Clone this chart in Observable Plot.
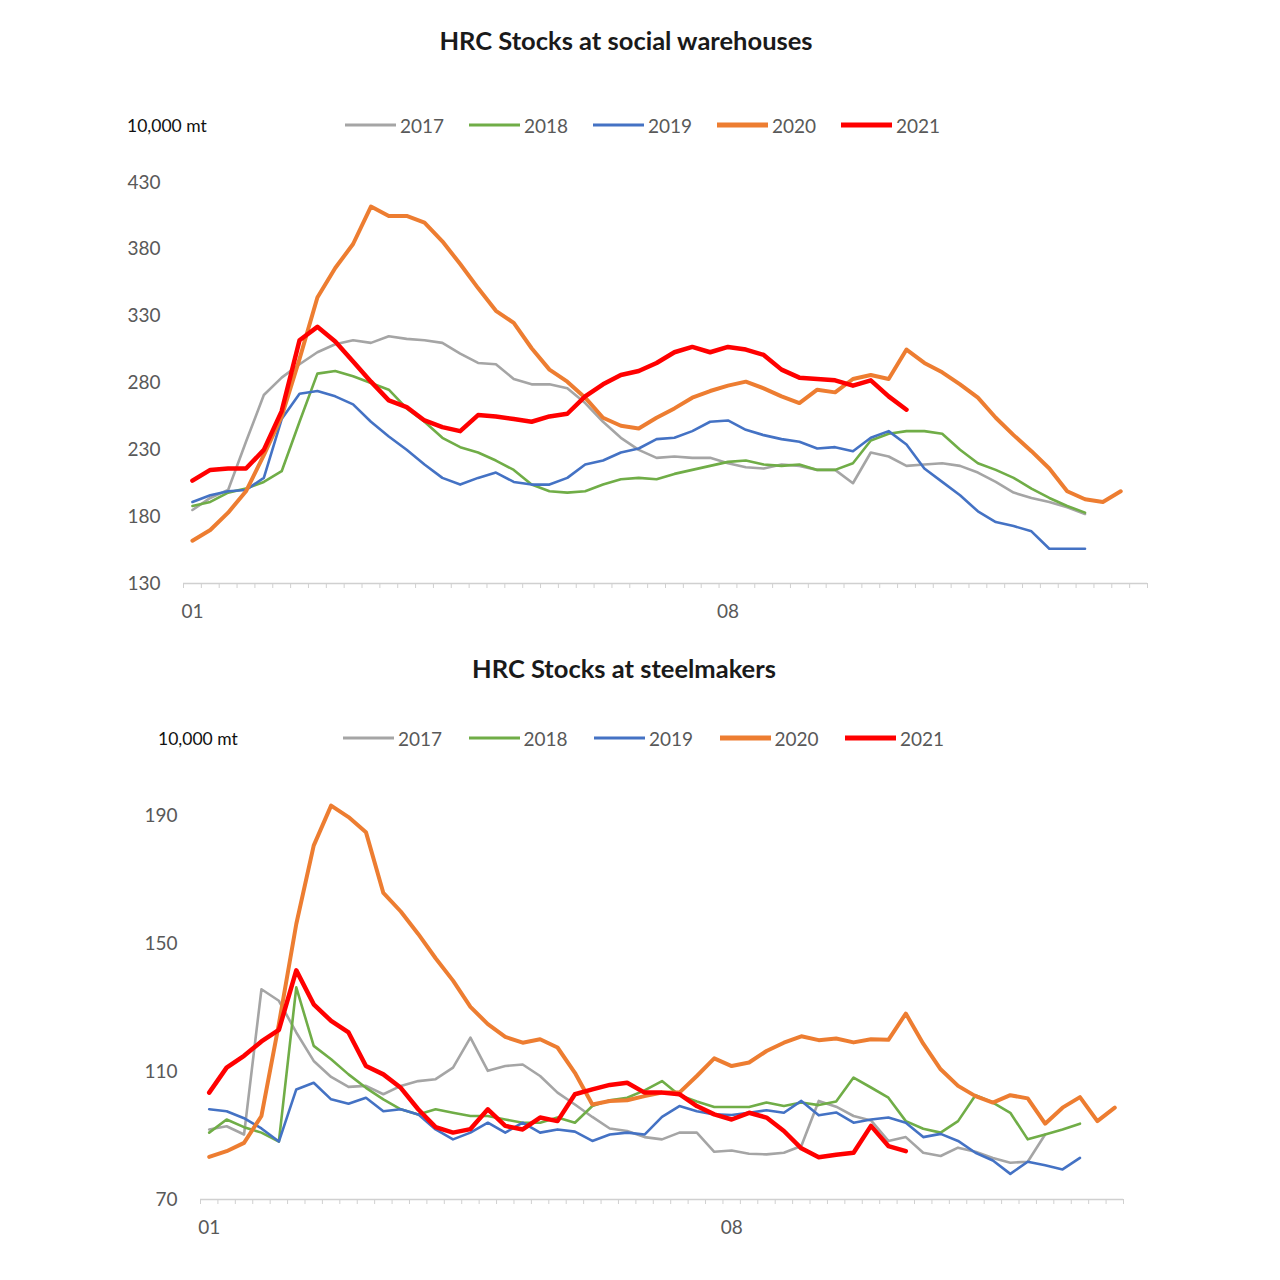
<!DOCTYPE html>
<html>
<head>
<meta charset="utf-8">
<script src="https://cdn.jsdelivr.net/npm/d3@7"></script>
<script src="https://cdn.jsdelivr.net/npm/@observablehq/plot@0.6"></script>
<style>
  body { margin: 0; background: #fff; font-family: Lato, "Open Sans", sans-serif; }
  #page { position: relative; width: 1280px; height: 1280px; overflow: hidden; background: #fff; }
  .abs { position: absolute; }
  .title { font-weight: bold; font-size: 25.5px; color: #1a1a1a; transform: translate(-50%, -50%); white-space: nowrap; }
  .unit { font-size: 17.5px; color: #111; transform: translateY(-50%); white-space: nowrap; }
  .legend { display: flex; align-items: center; transform: translateY(-50%); }
  .item { display: flex; align-items: center; }
  .swatch { width: 51px; margin-right: 4px; }
  .ltext { font-size: 19px; color: #595959; }
  .chart { position: absolute; left: 0; }
</style>
</head>
<body>
<div id="page"></div>
<script>
// ---------- data ----------
const years = ["2017", "2018", "2019", "2020", "2021"];
const xLabels = ["01", "08"];
const xLabelWeek = [0, 30];

// HRC stocks at social warehouses (10,000 mt), weekly
const warehouse2017 = [185,194,200,236,271,284,294,303,309,312,310,315,313,312,310,302,295,294,283,279,279,276,265,251,239,230,224,225,224,224,220,217,216,219,218,215,215,205,228,225,218,219,220,218,213,206,198,194,191,187,182];
const warehouse2018 = [188,191,198,201,206,214,251,287,289,285,280,275,261,251,239,232,228,222,215,204,199,198,199,204,208,209,208,212,215,218,221,222,219,218,219,215,215,220,237,242,244,244,242,230,220,215,209,201,194,188,183];
const warehouse2019 = [191,196,199,200,209,253,272,274,270,264,251,240,230,219,209,204,209,213,206,204,204,209,219,222,228,231,238,239,244,251,252,245,241,238,236,231,232,229,239,244,234,216,206,196,184,176,173,169,156,156,156];
const warehouse2020 = [162,170,183,199,226,255,298,344,366,384,412,405,405,400,386,369,351,334,325,306,290,281,269,254,248,246,254,261,269,274,278,281,276,270,265,275,273,283,286,283,305,295,288,279,269,254,241,229,216,199,193,191,199];
const warehouse2021 = [207,215,216,216,230,259,312,322,311,296,281,267,262,252,247,244,256,255,253,251,255,257,270,279,286,289,295,303,307,303,307,305,301,290,284,283,282,278,282,270,260];
const warehouseYTicks = [130, 180, 230, 280, 330, 380, 430];

// HRC stocks at steelmakers (10,000 mt), weekly
const mill2017 = [91.9,92.9,90.3,135.7,132.1,122.2,113.3,108.3,105.2,105.5,102.9,105.5,107,107.6,111.2,120.6,110.2,111.7,112.2,108.6,103.4,99.7,95.8,92.2,91.4,89.5,88.8,90.9,90.9,84.9,85.3,84.3,84.1,84.6,86.7,100.8,99,96.1,94.7,88.3,89.5,84.6,83.6,86.2,84.9,83,81.5,81.8,90.3];
const mill2018 = [90.9,95,92.6,90.9,88.1,136.3,118,113.8,109.1,104.9,101.3,98.2,96.6,98.2,97.1,96.1,96.1,95,94,94,95.6,94,99.2,101,101.8,104.1,107,102.6,100.6,98.9,98.9,98.9,100.3,99.2,100.3,99.5,100.6,108.1,105,101.8,94.5,92.1,90.9,94.5,102.6,100.3,97.1,88.8,90.3,91.9,93.7];
const mill2019 = [98.2,97.6,95.4,92.2,88.1,104.4,106.5,101.3,99.9,101.8,97.6,98.2,96.6,91.9,88.8,90.9,94,90.9,94,90.9,91.9,91.2,88.3,90.3,90.9,90.3,95.8,99.2,97.6,96.6,96.4,97.1,97.9,97.1,100.8,96.3,97.2,94,95,95.6,94,89.5,90.5,88.3,84.6,82.2,78,81.8,80.7,79.4,83];
const mill2020 = [83.3,85.1,87.7,96.1,124.8,156.1,180.6,193.1,189.5,184.8,165.8,160,153,145.4,138.4,130.2,124.8,120.8,119,120.1,117.5,109.6,99.7,100.8,101,102.3,103.4,103.4,108.6,114.1,111.7,112.8,116.4,119,121,119.8,120.3,119.1,120.1,119.9,128.1,118.7,110.7,105.5,102.3,100.3,102.6,101.6,93.7,98.7,102,94.5,98.7];
const mill2021 = [103.4,111.2,114.9,119.4,123,141.6,131,125.8,122.2,111.7,109.1,104.9,98.2,92.6,90.9,92,98.2,93,91.9,95.6,94.5,102.9,104.4,105.8,106.5,103.4,103.4,102.9,99.2,96.6,95,97.1,95.6,91.4,86,83.2,84,84.6,93,86.7,85.1];
const millYTicks = [70, 110, 150, 190];

// ---------- styles ----------
const lineColor = { "2017": "#A5A5A5", "2018": "#70AD47", "2019": "#4472C4", "2020": "#ED7D31", "2021": "#FF0000" };
const lineWidth = { "2017": 2.6, "2018": 2.6, "2019": 2.6, "2020": 4, "2021": 4.5 };
const swatchWidth = { "2017": 2.6, "2018": 2.6, "2019": 2.6, "2020": 4.5, "2021": 5.5 };

const page = document.getElementById("page");

function addDiv(cls, text, left, top) {
  const d = document.createElement("div");
  d.className = "abs " + cls;
  d.style.left = left + "px";
  d.style.top = top + "px";
  if (text != null) d.textContent = text;
  page.appendChild(d);
  return d;
}

function addLegend(left, top, pitch) {
  const lg = addDiv("legend", null, left, top);
  years.forEach(yr => {
    const it = document.createElement("div");
    it.className = "item";
    it.style.width = pitch + "px";
    const sw = document.createElement("div");
    sw.className = "swatch";
    sw.style.height = swatchWidth[yr] + "px";
    sw.style.background = lineColor[yr];
    const tx = document.createElement("div");
    tx.className = "ltext";
    tx.textContent = yr;
    it.appendChild(sw); it.appendChild(tx);
    lg.appendChild(it);
  });
}

function panel(seriesList, nWeeks, yTicks, top, height, margins) {
  const rows = [];
  years.forEach((yr, k) => seriesList[k].forEach((v, i) => rows.push({ year: yr, week: i, value: v })));
  const yDomain = [d3.min(yTicks), d3.max(yTicks)];
  const svg = Plot.plot({
    width: 1280,
    height,
    marginLeft: margins[0], marginRight: margins[1], marginTop: margins[2], marginBottom: margins[3],
    x: { type: "linear", domain: [-0.5, nWeeks - 0.5] },
    y: { domain: yDomain },
    style: { background: "transparent", fontFamily: "Lato, 'Open Sans', sans-serif", fontSize: "19px", color: "#595959", overflow: "visible" },
    marks: [
      Plot.axisY({ ticks: yTicks, tickSize: 0, tickPadding: 23, label: null, fontSize: 19, fill: "#595959" }),
      Plot.ruleY([yDomain[0]], { stroke: "#D0D0D0", strokeWidth: 1.3 }),
      Plot.axisX({ ticks: d3.range(nWeeks + 1).map(k => k - 0.5), tickSize: 5, tickFormat: () => "", label: null, stroke: "#D0D0D0" }),
      Plot.axisX({ ticks: xLabelWeek, tickFormat: d => xLabels[xLabelWeek.indexOf(d)], tickSize: 0, tickPadding: 21, label: null, fontSize: 19, fill: "#595959" }),
      ...years.map(yr => Plot.line(rows.filter(r => r.year === yr), {
        x: "week", y: "value",
        stroke: lineColor[yr], strokeWidth: lineWidth[yr],
        strokeLinejoin: "round", strokeLinecap: "round"
      }))
    ]
  });
  svg.classList.add("chart");
  svg.style.top = top + "px";
  page.appendChild(svg);
}

// top panel
addDiv("title", "HRC Stocks at social warehouses", 626, 40);
addDiv("unit", "10,000 mt", 127, 125);
addLegend(345, 125, 124);
panel([warehouse2017, warehouse2018, warehouse2019, warehouse2020, warehouse2021], 54, warehouseYTicks, 0, 640, [183, 133, 182, 57]);

// bottom panel
addDiv("title", "HRC Stocks at steelmakers", 624, 668);
addDiv("unit", "10,000 mt", 158, 738);
addLegend(343, 738, 125.5);
panel([mill2017, mill2018, mill2019, mill2020, mill2021], 53, millYTicks, 640, 640, [200, 157, 175, 81]);
</script>
</body>
</html>
